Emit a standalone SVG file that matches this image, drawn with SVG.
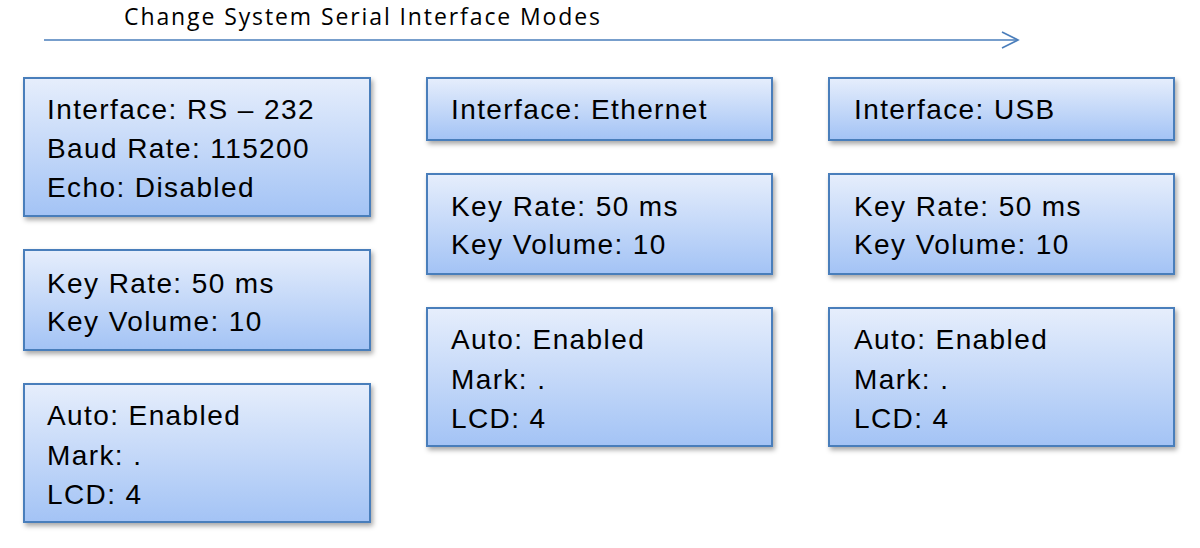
<svg xmlns="http://www.w3.org/2000/svg" width="1200" height="548" viewBox="0 0 1200 548">
<defs>
<linearGradient id="g" x1="0" y1="0" x2="0" y2="1"><stop offset="0" stop-color="#e6eefc"/><stop offset="1" stop-color="#a3c3f5"/></linearGradient>
<filter id="sh" x="-10%" y="-10%" width="130%" height="140%"><feDropShadow dx="2" dy="3" stdDeviation="2.5" flood-color="#000" flood-opacity="0.35"/></filter>
<marker id="ah" markerWidth="20" markerHeight="20" refX="18" refY="9" orient="auto" markerUnits="userSpaceOnUse"><path d="M2,1 L18,9 L2,17" fill="none" stroke="#4a7ebb" stroke-width="1.6"/></marker>
</defs>
<style>
rect{fill:url(#g);stroke:#4a7ebb;stroke-width:2;filter:url(#sh)}
text{font-family:"Liberation Sans",Arial,sans-serif;font-size:28px;letter-spacing:1.4px;fill:#000}
.t{font-family:"Open Sans","Liberation Sans",sans-serif;font-size:23px;letter-spacing:1.9px}
</style>
<rect width="1200" height="548" fill="#fff" style="fill:#fff;stroke:none;filter:none"/>
<text class="t" x="124" y="25">Change System  Serial Interface Modes</text>
<g id="connectors"><line x1="44" y1="40" x2="1018" y2="40" stroke="#4a7ebb" stroke-width="1.6" marker-end="url(#ah)"/></g>
<g id="n1"><rect x="24" y="78" width="346" height="138"/><text x="47" y="119">Interface: RS – 232</text><text x="47" y="158">Baud Rate: 115200</text><text x="47" y="197">Echo: Disabled</text></g>
<g id="n2"><rect x="24" y="250" width="346" height="100"/><text x="47" y="293">Key Rate: 50 ms</text><text x="47" y="331">Key Volume: 10</text></g>
<g id="n3"><rect x="24" y="384" width="346" height="138"/><text x="47" y="425">Auto: Enabled</text><text x="47" y="465">Mark: .</text><text x="47" y="504">LCD: 4</text></g>
<g id="n4"><rect x="427" y="78" width="345" height="62"/><text x="451" y="119">Interface: Ethernet</text></g>
<g id="n5"><rect x="427" y="174" width="345" height="100"/><text x="451" y="216">Key Rate: 50 ms</text><text x="451" y="254">Key Volume: 10</text></g>
<g id="n6"><rect x="427" y="308" width="345" height="138"/><text x="451" y="349">Auto: Enabled</text><text x="451" y="389">Mark: .</text><text x="451" y="428">LCD: 4</text></g>
<g id="n7"><rect x="829" y="78" width="345" height="62"/><text x="854" y="119">Interface: USB</text></g>
<g id="n8"><rect x="829" y="174" width="345" height="100"/><text x="854" y="216">Key Rate: 50 ms</text><text x="854" y="254">Key Volume: 10</text></g>
<g id="n9"><rect x="829" y="308" width="345" height="138"/><text x="854" y="349">Auto: Enabled</text><text x="854" y="389">Mark: .</text><text x="854" y="428">LCD: 4</text></g>
</svg>
